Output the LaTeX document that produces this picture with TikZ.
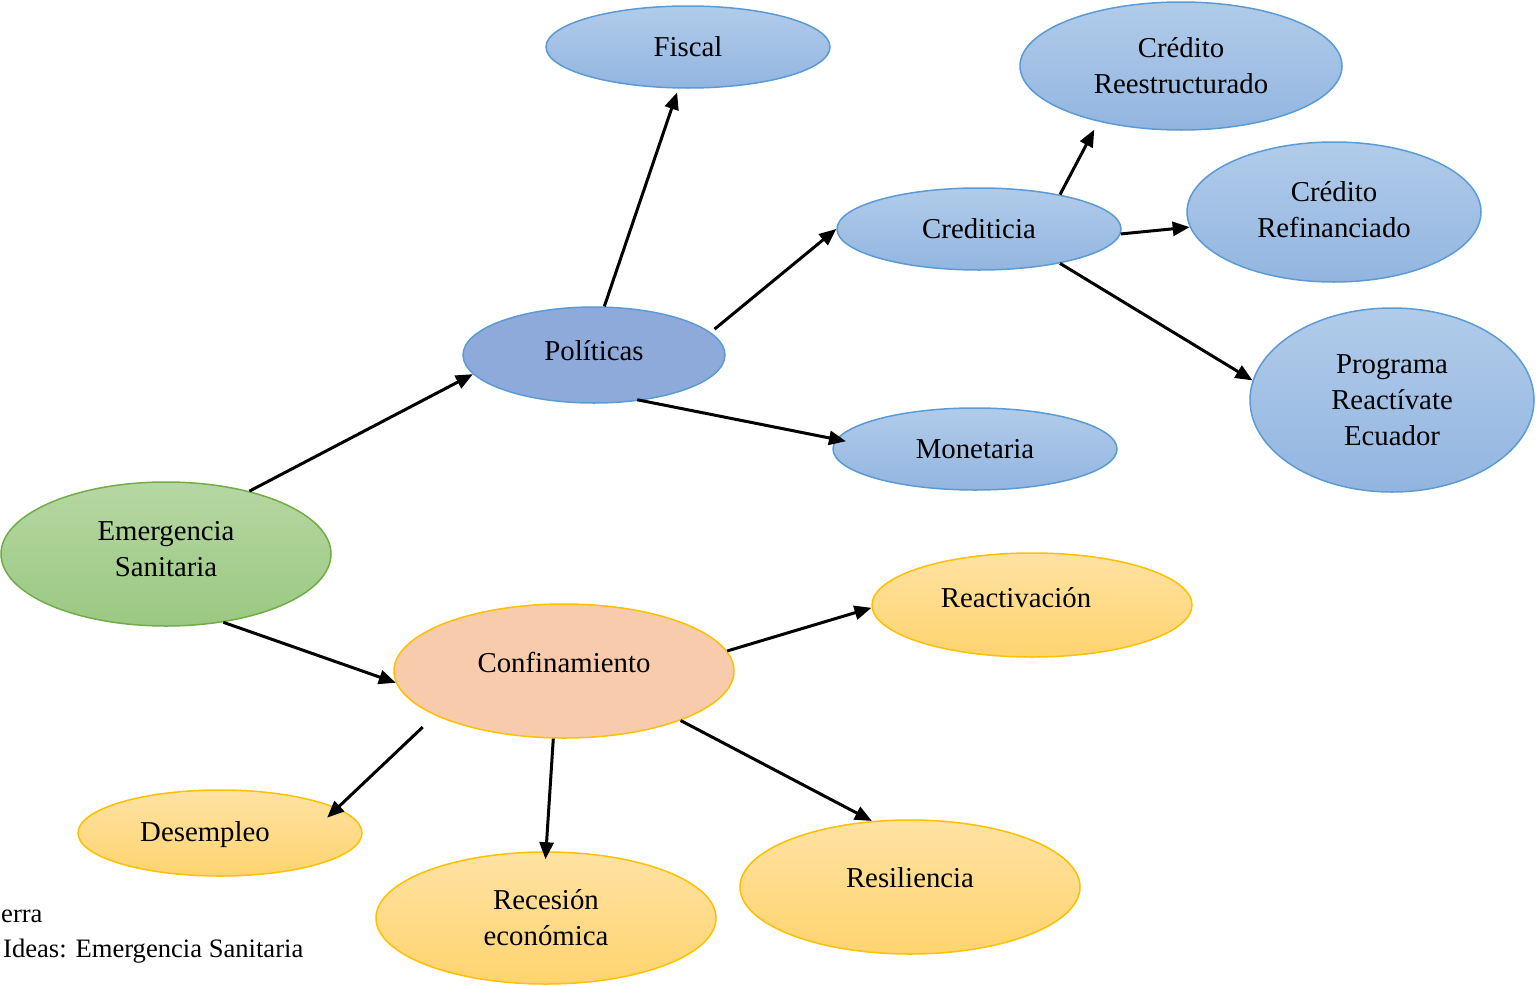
\documentclass[tikz,border=0pt]{standalone}
\usepackage{fontspec}
\setmainfont{Liberation Serif}
\usetikzlibrary{arrows.meta,shapes.geometric}
\definecolor{blueEdge}{HTML}{5B9BD5}
\definecolor{blueTop}{HTML}{B1CCEA}
\definecolor{blueBot}{HTML}{92B5E0}
\definecolor{polFill}{HTML}{8EAADB}
\definecolor{greenEdge}{HTML}{70AD47}
\definecolor{greenTop}{HTML}{B6D7A3}
\definecolor{greenBot}{HTML}{9BC882}
\definecolor{goldEdge}{HTML}{FFC000}
\definecolor{goldTop}{HTML}{FFE2A3}
\definecolor{goldBot}{HTML}{FFD46F}
\definecolor{peach}{HTML}{F7CBAC}
\tikzset{
  idea/.style={ellipse, inner sep=0pt, align=center, line width=1.5pt, font=\fontsize{28.8}{36}\selectfont},
  dims/.style 2 args={minimum width=#1, minimum height=#2},
  lift/.style={text depth=#1},
  nudge/.style={execute at end node={\hspace*{#1}}},
  blueidea/.style={idea, draw=blueEdge, top color=blueTop, bottom color=blueBot},
  polidea/.style={idea, draw=blueEdge, fill=polFill},
  greenidea/.style={idea, draw=greenEdge, top color=greenTop, bottom color=greenBot},
  goldidea/.style={idea, draw=goldEdge, top color=goldTop, bottom color=goldBot},
  peachidea/.style={idea, draw=goldEdge, fill=peach},
  link/.style={draw=black, line width=3pt, -{Triangle[length=17pt,width=14pt]}},
  note/.style={inner sep=0pt, anchor=base west, font=\fontsize{26.6}{34}\selectfont},
}
\begin{document}
\begin{tikzpicture}[x=1pt, y=-1pt]
  \useasboundingbox (0,0) rectangle (1536,985);

  % upper branch
  \node[greenidea, dims={330pt}{144pt}, lift=10pt] (emer) at (166,554) {Emergencia\\Sanitaria};
  \node[polidea, dims={262pt}{96pt}, lift=10pt] (pol) at (594,355) {Políticas};
  \node[blueidea, dims={284pt}{82pt}] (fisc) at (688,47) {Fiscal};
  \node[blueidea, dims={284pt}{82pt}] (cred) at (979,229) {Crediticia};
  \node[blueidea, dims={284pt}{82pt}] (mon) at (975,449) {Monetaria};
  \node[blueidea, dims={322pt}{128pt}] (creest) at (1181,66) {Crédito\\Reestructurado};
  \node[blueidea, dims={294pt}{140pt}, lift=6pt] (crefin) at (1334,212) {Crédito\\Refinanciado};
  \node[blueidea, dims={284pt}{184pt}] (prog) at (1392,400) {Programa\\Reactívate\\Ecuador};

  % lower branch
  \node[peachidea, dims={340pt}{134pt}, lift=18pt] (conf) at (564,671) {Confinamiento};
  \node[goldidea, dims={320pt}{104pt}, lift=16pt, nudge=32pt] (reac) at (1032,605) {Reactivación};
  \node[goldidea, dims={284pt}{86pt}, lift=4pt, nudge=30pt] (desem) at (220,833) {Desempleo};
  \node[goldidea, dims={340pt}{132pt}] (reces) at (546,918) {Recesión\\económica};
  \node[goldidea, dims={340pt}{134pt}, lift=20pt] (resil) at (910,887) {Resiliencia};

  \draw[link] (emer.37) -- (pol.189);
  \draw[link, shorten >=4pt] (pol.78) -- (fisc.257);
  \draw[link, shorten <=5pt] (pol.11) -- (cred.180);
  \draw[link, shorten <=-4pt, shorten >=-10pt] (pol.316) -- (mon.176);
  \draw[link, shorten >=9pt] (cred.23) -- (creest.214);
  \draw[link] (cred.358) -- (crefin.186);
  \draw[link] (cred.337) -- (prog.172);

  \draw[link] (emer.310) -- (conf.184);
  \draw[link] (conf.7) -- (reac.181);
  \draw[link, shorten <=17pt, shorten >=-14pt] (conf.199) -- (desem.12);
  \draw[link, shorten >=-8pt] (conf.261) -- (reces.90);
  \draw[link] (conf.337) -- (resil.120);

  \node[note] (src) at (1,922) {erra};
  \node[note] (cap) at (3,957) {Ideas: Emergencia Sanitaria};
\end{tikzpicture}
\end{document}
